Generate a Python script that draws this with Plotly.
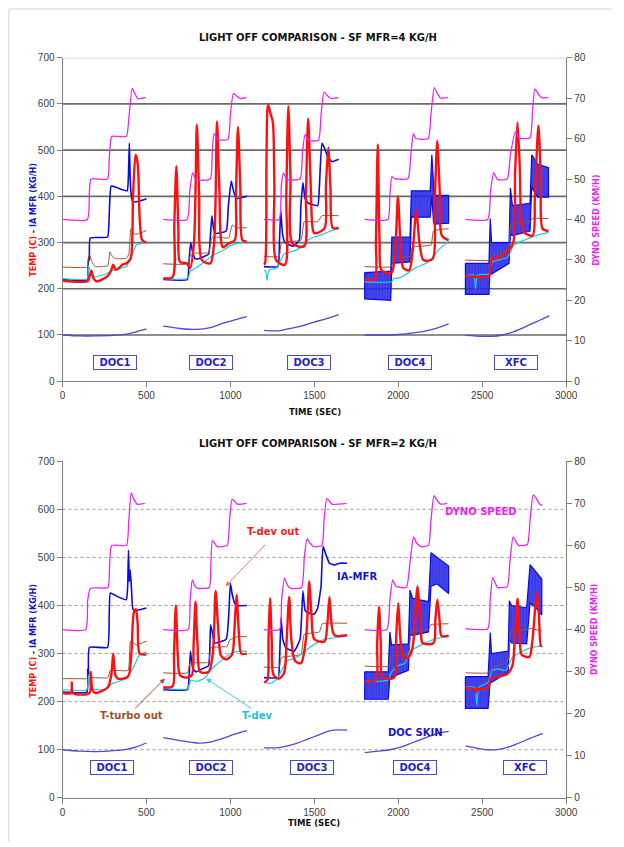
import plotly.graph_objects as go

# ---------------- DATA (time [s], value) ; None separates the test segments ----------------
SEGMENTS = ["DOC1", "DOC2", "DOC3", "DOC4", "XFC"]
X_TICKS = [0, 500, 1000, 1500, 2000, 2500, 3000]
Y_TICKS = [0, 100, 200, 300, 400, 500, 600, 700]
Y2_TICKS = [0, 10, 20, 30, 40, 50, 60, 70, 80]
GRID_VALUES = [100, 200, 300, 400, 500, 600]

# ---- top chart: SF MFR = 4 kg/h ----
TOP_DYNO = [
    (0, 40), (148, 40), (160, 47), (170, 50), (268, 50), (278, 55), (290, 60.3), (300, 60.6), (380, 60.5), (395, 65),
    (415, 72.4), (432, 71), (448, 69.9), (470, 69.9), (495, 70.2), None,
    (600, 40), (742, 40), (758, 47), (775, 51.5), (795, 49.8), (880, 50), (892, 57), (903, 61.3), (925, 59.7),
    (985, 59.8), (1000, 66), (1018, 71.2), (1040, 70.4), (1060, 69.9), (1095, 70.1), None,
    (1200, 40), (1290, 40), (1303, 48), (1315, 51.5), (1338, 49.9), (1415, 50), (1430, 57), (1445, 61), (1468, 59.5),
    (1525, 59.6), (1540, 66), (1558, 71.5), (1580, 70.5), (1600, 69.9), (1642, 70.1), None,
    (1800, 40), (1938, 40), (1950, 46), (1962, 50.6), (1978, 50.1), (2058, 50.1), (2075, 56), (2090, 61.2), (2105, 60),
    (2178, 60), (2195, 66), (2214, 72.6), (2235, 71), (2252, 70), (2297, 70.2), None,
    (2400, 40), (2533, 40), (2550, 47), (2568, 51.6), (2591, 49.9), (2649, 50), (2668, 56), (2698, 61.7), (2720, 60.1),
    (2785, 60.2), (2800, 67), (2814, 72.3), (2835, 71), (2853, 70.1), (2895, 70.2),
]
TOP_MFR = [
    (0, 220), (148, 219), (152, 245), (156, 270), (160, 262), (165, 310), (268, 312), (278, 360), (290, 422), (330, 418),
    (385, 412), (392, 440), (398, 515), (403, 440), (410, 400), (420, 388), (460, 390), (500, 395), None,
    (600, 220), (744, 220), (752, 250), (763, 300), (775, 280), (790, 265), (810, 265), (870, 275), (880, 310), (890, 358),
    (900, 330), (912, 320), (975, 325), (988, 380), (1005, 433), (1020, 410), (1035, 395), (1098, 400), None,
    (1200, 248), (1283, 248), (1292, 300), (1300, 370), (1310, 320), (1325, 300), (1375, 292), (1410, 305), (1420, 380),
    (1432, 430), (1445, 395), (1465, 385), (1520, 380), (1530, 420), (1545, 515), (1560, 505), (1580, 485), (1606, 475),
    (1645, 480),
]
# noisy IA MFR signal on DOC4 / XFC: (time, low envelope, high envelope)
TOP_MFR_BAND = [
    (1800, 178, 235), (1955, 175, 238), (1962, 255, 312), (2070, 258, 312), (2078, 355, 412), (2190, 355, 412),
    (2200, 400, 490), (2210, 345, 420), (2215, 340, 402), (2300, 342, 402), None,
    (2400, 188, 255), (2540, 188, 255), (2548, 250, 352), (2556, 232, 300), (2660, 255, 300), (2668, 318, 418),
    (2680, 315, 380), (2785, 325, 385), (2795, 420, 490), (2830, 398, 470), (2895, 398, 462),
]
TOP_TDEV_OUT = [
    (0, 217), (150, 217), (162, 228), (172, 239), (185, 222), (205, 216), (270, 228), (290, 240), (302, 252), (318, 241),
    (345, 248), (360, 253), (380, 255), (405, 265), (420, 400), (435, 490), (448, 470), (460, 350), (475, 305), (500, 300), None,
    (600, 223), (655, 225), (666, 340), (678, 465), (690, 330), (700, 258), (740, 255), (760, 245), (783, 300), (800, 555),
    (814, 400), (830, 262), (880, 255), (903, 300), (920, 562), (934, 420), (955, 290), (990, 298), (1026, 305), (1033, 400),
    (1045, 550), (1059, 420), (1072, 305), (1098, 302), None,
    (1200, 252), (1207, 256), (1215, 480), (1224, 598), (1240, 578), (1253, 560), (1262, 420), (1272, 262), (1325, 252),
    (1333, 400), (1345, 595), (1358, 440), (1370, 298), (1440, 292), (1450, 400), (1463, 568), (1476, 450), (1490, 330),
    (1500, 320), (1560, 330), (1569, 420), (1583, 505), (1596, 420), (1610, 332), (1645, 332), None,
    (1800, 220), (1860, 222), (1867, 300), (1878, 512), (1889, 300), (1900, 240), (1960, 235), (1984, 300), (1998, 400),
    (2013, 300), (2030, 245), (2065, 240), (2085, 280), (2108, 370), (2126, 300), (2150, 262), (2205, 265), (2217, 380),
    (2232, 520), (2246, 420), (2260, 315), (2300, 305), None,
    (2400, 228), (2540, 228), (2555, 262), (2600, 268), (2650, 280), (2685, 300), (2696, 450), (2710, 560), (2723, 470),
    (2735, 340), (2750, 322), (2800, 315), (2814, 400), (2835, 553), (2849, 440), (2860, 330), (2895, 325),
]
TOP_TTURBO = [
    (0, 247), (148, 247), (152, 262), (160, 275), (175, 258), (195, 248), (270, 250), (282, 280), (300, 268), (320, 265),
    (380, 266), (395, 275), (408, 330), (430, 318), (460, 320), (500, 326), None,
    (600, 254), (745, 254), (760, 270), (775, 277), (870, 278), (885, 305), (895, 312), (990, 310), (1000, 325), (1012, 338),
    (1030, 332), (1098, 332), None,
    (1200, 270), (1290, 270), (1305, 300), (1420, 305), (1440, 345), (1520, 345), (1545, 358), (1645, 358), None,
    (1800, 248), (1958, 248), (1970, 268), (2070, 270), (2085, 290), (2195, 295), (2210, 325), (2300, 330), None,
    (2400, 262), (2540, 262), (2555, 270), (2655, 285), (2672, 340), (2785, 345), (2800, 352), (2895, 352),
]
TOP_TDEV = [
    (0, 222), (148, 222), (155, 250), (165, 238), (190, 226), (260, 232), (300, 240), (380, 248), (410, 270), (440, 295),
    (470, 298), (500, 302), None,
    (600, 222), (745, 222), (760, 238), (780, 242), (835, 255), (895, 272), (960, 284), (1010, 295), (1100, 302), None,
    (1200, 240), (1210, 238), (1218, 218), (1230, 240), (1275, 245), (1300, 262), (1320, 275), (1380, 282), (1420, 290),
    (1460, 305), (1500, 312), (1550, 318), (1600, 325), (1645, 330), None,
    (1800, 215), (1960, 215), (1975, 222), (2010, 224), (2050, 232), (2100, 245), (2180, 258), (2240, 284), (2300, 303), None,
    (2400, 228), (2450, 230), (2460, 200), (2472, 230), (2540, 232), (2560, 258), (2650, 268), (2690, 295), (2750, 305),
    (2820, 315), (2895, 322),
]
TOP_SKIN = [
    (0, 100), (100, 98), (200, 98), (300, 99), (380, 102), (440, 107), (500, 113), None,
    (600, 119), (700, 114), (800, 112), (880, 116), (960, 126), (1030, 133), (1098, 140), None,
    (1200, 110), (1280, 109), (1340, 113), (1420, 119), (1500, 128), (1560, 134), (1645, 144), None,
    (1800, 100), (1900, 100), (2000, 101), (2100, 105), (2180, 110), (2230, 115), (2300, 124), None,
    (2400, 99), (2500, 97), (2560, 97), (2620, 100), (2680, 106), (2740, 115), (2800, 125), (2850, 133), (2900, 142),
]
TOP_BOX_T = [311, 884, 1471, 2070, 2701]
TOP_BOX_Y = 40

# ---- bottom chart: SF MFR = 2 kg/h ----
BOT_DYNO = [
    (0, 40), (138, 40), (150, 47), (167, 49.8), (270, 50), (280, 55), (293, 60), (380, 60), (395, 66), (409, 72.5),
    (425, 71), (444, 69.8), (490, 70), None,
    (600, 40), (748, 40), (760, 47), (773, 51.8), (790, 50.2), (806, 49.8), (874, 50), (884, 56), (893, 61.2), (922, 59.7),
    (981, 60), (995, 66), (1010, 71), (1025, 70.5), (1041, 69.8), (1095, 70), None,
    (1200, 40), (1293, 40), (1305, 47), (1322, 52.2), (1340, 50.5), (1360, 49.8), (1424, 50), (1440, 57), (1457, 61.6),
    (1475, 60.5), (1496, 59.7), (1545, 60), (1558, 66), (1574, 71.2), (1590, 70.5), (1603, 69.8), (1692, 70), None,
    (1800, 40), (1932, 40), (1950, 47), (1967, 51.8), (1985, 50.3), (2048, 50), (2070, 56), (2091, 62), (2110, 60.5),
    (2136, 59.7), (2180, 60), (2195, 66), (2213, 71.8), (2235, 70.5), (2252, 69.8), (2291, 70), None,
    (2400, 40.2), (2533, 40.2), (2548, 47), (2562, 52.4), (2578, 51), (2591, 50), (2649, 50.2), (2665, 56), (2684, 62),
    (2700, 61), (2717, 60), (2769, 60.2), (2785, 66), (2804, 72), (2825, 71), (2843, 69.8), (2858, 69.5),
]
BOT_MFR = [
    (0, 220), (145, 220), (150, 268), (155, 250), (160, 313), (268, 313), (278, 380), (285, 426), (330, 418), (380, 412),
    (388, 440), (393, 515), (398, 450), (403, 474), (410, 440), (420, 392), (440, 390), (500, 395), None,
    (600, 225), (745, 225), (752, 240), (762, 305), (775, 270), (795, 262), (830, 268), (870, 275), (882, 360), (895, 340),
    (905, 322), (975, 330), (990, 380), (1000, 446), (1010, 425), (1025, 405), (1040, 400), (1098, 400), None,
    (1200, 250), (1285, 250), (1292, 280), (1302, 375), (1312, 330), (1330, 312), (1380, 305), (1415, 330), (1432, 430),
    (1445, 390), (1460, 385), (1500, 382), (1520, 395), (1540, 440), (1552, 523), (1570, 505), (1590, 488), (1620, 484),
    (1650, 488), (1695, 488),
]
BOT_MFR_BAND = [
    (1800, 205, 262), (1940, 205, 262), (1950, 250, 345), (1960, 250, 318), (2060, 265, 320), (2070, 340, 432),
    (2085, 338, 415), (2180, 345, 408), (2195, 440, 510), (2230, 445, 500), (2300, 425, 482), None,
    (2400, 186, 252), (2535, 186, 252), (2548, 245, 344), (2556, 240, 300), (2655, 262, 305), (2662, 330, 410),
    (2675, 322, 400), (2765, 320, 395), (2785, 405, 485), (2820, 395, 470), (2855, 380, 455),
]
BOT_TDEV_OUT = [
    (0, 218), (50, 218), (55, 240), (62, 218), (160, 218), (168, 262), (178, 225), (195, 218), (270, 230), (290, 255),
    (302, 300), (315, 255), (330, 248), (390, 252), (410, 300), (425, 385), (438, 392), (448, 360), (460, 300), (500, 298), None,
    (600, 230), (655, 232), (664, 300), (675, 400), (686, 300), (700, 255), (740, 250), (770, 255), (781, 320), (792, 408),
    (804, 320), (820, 262), (870, 262), (895, 300), (912, 430), (926, 360), (945, 295), (975, 288), (1010, 298), (1024, 350),
    (1037, 422), (1051, 340), (1065, 300), (1098, 300), None,
    (1200, 240), (1220, 245), (1227, 330), (1236, 415), (1246, 330), (1258, 255), (1290, 248), (1320, 260), (1334, 320),
    (1350, 418), (1363, 330), (1385, 285), (1420, 280), (1450, 330), (1470, 450), (1483, 380), (1500, 330), (1560, 325),
    (1577, 360), (1590, 418), (1603, 360), (1620, 338), (1695, 338), None,
    (1800, 242), (1865, 245), (1874, 320), (1885, 398), (1896, 320), (1908, 250), (1975, 250), (1987, 330), (2000, 405),
    (2013, 330), (2030, 290), (2060, 292), (2080, 305), (2095, 340), (2108, 420), (2115, 440), (2125, 400), (2135, 345),
    (2145, 322), (2210, 322), (2221, 370), (2233, 412), (2246, 370), (2258, 337), (2300, 337), None,
    (2400, 228), (2455, 226), (2465, 220), (2475, 226), (2535, 228), (2550, 248), (2600, 252), (2650, 258), (2680, 275),
    (2694, 330), (2710, 414), (2723, 340), (2735, 298), (2780, 293), (2800, 330), (2825, 426), (2838, 380), (2850, 316),
    (2858, 316),
]
BOT_TTURBO = [
    (0, 248), (150, 248), (160, 250), (270, 250), (285, 265), (390, 265), (405, 325), (440, 318), (500, 326), None,
    (600, 260), (745, 260), (760, 280), (870, 282), (885, 312), (980, 315), (995, 328), (1040, 335), (1098, 335), None,
    (1200, 272), (1290, 272), (1305, 292), (1420, 298), (1440, 340), (1530, 345), (1548, 362), (1695, 363), None,
    (1800, 274), (1945, 274), (1960, 295), (2060, 300), (2075, 345), (2180, 350), (2195, 360), (2300, 362), None,
    (2400, 260), (2535, 260), (2550, 268), (2655, 285), (2670, 345), (2760, 350), (2790, 352), (2855, 347),
]
BOT_TDEV = [
    (0, 225), (145, 225), (155, 255), (170, 228), (250, 225), (300, 238), (380, 248), (420, 270), (460, 298), (500, 303), None,
    (600, 227), (745, 227), (765, 245), (800, 242), (850, 250), (880, 265), (920, 278), (960, 290), (1000, 300), (1050, 305),
    (1098, 305), None,
    (1200, 240), (1240, 238), (1280, 248), (1300, 262), (1340, 285), (1380, 290), (1420, 298), (1470, 312), (1540, 327),
    (1600, 332), (1695, 336), None,
    (1800, 242), (1940, 245), (1960, 262), (2000, 275), (2040, 280), (2070, 305), (2120, 315), (2180, 325), (2240, 332),
    (2300, 336), None,
    (2400, 230), (2455, 230), (2468, 192), (2480, 230), (2535, 240), (2560, 265), (2600, 268), (2640, 265), (2680, 292),
    (2740, 305), (2800, 313), (2855, 316),
]
BOT_SKIN = [
    (0, 100), (100, 97), (200, 96), (300, 98), (380, 101), (440, 106), (500, 114), None,
    (600, 125), (700, 119), (800, 114), (880, 116), (950, 123), (1020, 132), (1098, 140), None,
    (1200, 104), (1280, 104), (1340, 108), (1400, 114), (1460, 122), (1520, 130), (1580, 138), (1610, 141), (1695, 141), None,
    (1800, 94), (1880, 97), (1950, 100), (2020, 106), (2080, 114), (2140, 122), (2200, 130), (2250, 135), (2300, 138), None,
    (2400, 108), (2460, 104), (2530, 100), (2600, 101), (2660, 106), (2720, 114), (2780, 123), (2830, 130), (2860, 134),
]
BOT_BOX_T = [296, 884, 1488, 2097, 2754]
BOT_BOX_Y = 64

# in-chart labels of the bottom chart: (text, colour, time, value)
BOT_LABELS = [
    ("DYNO SPEED", "#ee22ee", 2491, 595),
    ("T-dev out", "#ff1a1a", 1254, 553),
    ("IA-MFR", "#1515d0", 1753, 460),
    ("T-turbo out", "#a0522d", 413, 171),
    ("T-dev", "#22c0e0", 1158, 171),
    ("DOC SKIN", "#1515d0", 2100, 136),
]
# arrows: (head time, head value, tail time, tail value, colour)
BOT_ARROWS = [
    (971, 440, 1215, 529, "#e07a6a"),
    (610, 248, 424, 183, "#a0522d"),
    (855, 248, 1134, 184, "#40c8e0"),
]

# ---------------- STYLE ----------------
W, H = 624, 847
C_DYNO, C_MFR, C_RED = "#f022f0", "#0a0ae6", "#ff1010"
C_TURBO, C_TDEV, C_SKIN = "#a0522d", "#22c8dc", "#4a4ad2"
BOLD = "DejaVu Sans"
TICKFONT = dict(family="Liberation Sans, Arial", size=10, color="#404040")


def split(pairs):
    xs, ys = [], []
    for p in pairs:
        if p is None:
            xs.append(None); ys.append(None)
        else:
            xs.append(p[0]); ys.append(p[1])
    return xs, ys


def band_poly(triples):
    segs = [[]]
    for p in triples:
        if p is None:
            segs.append([])
        else:
            segs[-1].append(p)
    xs, ys = [], []
    for s in segs:
        if not s:
            continue
        xs += [p[0] for p in s] + [p[0] for p in reversed(s)] + [s[0][0], None]
        ys += [p[2] for p in s] + [p[1] for p in reversed(s)] + [s[0][2], None]
    return xs, ys


fig = go.Figure()


def add_chart(xa, ya, ya2, dyno, mfr, band, tout, turbo, tdev, skin):
    def line(data, color, width, yax, smooth):
        x, y = split(data)
        shape = dict(shape="spline", smoothing=smooth) if smooth else dict(shape="linear")
        fig.add_trace(go.Scatter(x=x, y=y, mode="lines", xaxis=xa, yaxis=yax,
                                 line=dict(color=color, width=width, **shape), hoverinfo="skip",
                                 connectgaps=False, showlegend=False))
    line(skin, C_SKIN, 1.3, ya, 0.8)
    line(mfr, C_MFR, 1.6, ya, 0.4)
    bx, by = band_poly(band)
    fig.add_trace(go.Scatter(x=bx, y=by, mode="lines", fill="toself", xaxis=xa, yaxis=ya,
                             fillcolor="rgba(20,20,235,0.8)",
                             fillpattern=dict(shape="|", size=3, solidity=0.75, fgcolor="#0606e0",
                                              bgcolor="rgba(60,60,240,0.8)"),
                             line=dict(color=C_MFR, width=1.2),
                             hoverinfo="skip", showlegend=False))
    line(turbo, C_TURBO, 1.0, ya, 0.4)
    line(tdev, C_TDEV, 1.2, ya, 0.5)
    line(tout, C_RED, 2.4, ya, 0.8)
    line(dyno, C_DYNO, 1.3, ya2, 0.5)


add_chart("x", "y", "y2", TOP_DYNO, TOP_MFR, TOP_MFR_BAND, TOP_TDEV_OUT, TOP_TTURBO, TOP_TDEV, TOP_SKIN)
add_chart("x2", "y3", "y4", BOT_DYNO, BOT_MFR, BOT_MFR_BAND, BOT_TDEV_OUT, BOT_TTURBO, BOT_TDEV, BOT_SKIN)

X_DOM = [61 / W, 577 / W]
TOP_DOM = [(H - 380.7) / H, (H - 53.3) / H]
BOT_DOM = [(H - 802.3) / H, (H - 461.7) / H]

axis_common = dict(ticks="outside", ticklen=5, tickcolor="#808080", showline=True, linecolor="#808080",
                   linewidth=1, showgrid=False, zeroline=False, tickfont=TICKFONT, fixedrange=True)

fig.update_layout(
    width=W, height=H, margin=dict(l=0, r=0, t=0, b=0),
    paper_bgcolor="white", plot_bgcolor="white", showlegend=False,
    xaxis=dict(domain=X_DOM, anchor="y", range=[0, 3000], tickvals=X_TICKS, **axis_common),
    yaxis=dict(domain=TOP_DOM, anchor="x", range=[0, 700], tickvals=Y_TICKS, **axis_common),
    yaxis2=dict(overlaying="y", anchor="x", side="right", range=[0, 80], tickvals=Y2_TICKS, **axis_common),
    xaxis2=dict(domain=X_DOM, anchor="y3", range=[0, 3000], tickvals=X_TICKS, **axis_common),
    yaxis3=dict(domain=BOT_DOM, anchor="x2", range=[0, 700], tickvals=Y_TICKS, **axis_common),
    yaxis4=dict(overlaying="y3", anchor="x2", side="right", range=[0, 80], tickvals=Y2_TICKS, **axis_common),
)

shapes = []
for g in GRID_VALUES:
    shapes.append(dict(type="line", xref="x", yref="y", x0=0, x1=3000, y0=g, y1=g, layer="below",
                       line=dict(color="#6a6a6a", width=1.7)))
    shapes.append(dict(type="line", xref="x2", yref="y3", x0=0, x1=3000, y0=g, y1=g, layer="below",
                       line=dict(color="#9a9a9a", width=1, dash="dot")))
shapes.append(dict(type="line", xref="x", yref="y", x0=0, x1=3000, y0=700, y1=700, layer="below",
                   line=dict(color="#c4c4c4", width=1.5)))
# page frame
shapes.append(dict(type="line", xref="paper", yref="paper", x0=6 / W, x1=1, y0=1 - 4 / H, y1=1 - 4 / H,
                   line=dict(color="#d4d4d4", width=1)))
shapes.append(dict(type="line", xref="paper", yref="paper", x0=6 / W, x1=6 / W, y0=0, y1=1 - 4 / H,
                   line=dict(color="#d4d4d4", width=1)))
fig.update_layout(shapes=shapes)

ann = []


def paper_text(text, px, py, size, color="#111111", angle=0):
    ann.append(dict(text=text, x=px / W, y=1 - py / H, xref="paper", yref="paper", showarrow=False,
                    xanchor="center", yanchor="middle", textangle=angle,
                    font=dict(family=BOLD, size=size, color=color)))


paper_text("<b>LIGHT OFF COMPARISON - SF MFR=4 KG/H</b>", 323, 33, 10)
paper_text("<b>LIGHT OFF COMPARISON - SF MFR=2 KG/H</b>", 323, 444, 10)
paper_text("<b>TIME (SEC)</b>", 320, 412, 8.5)
paper_text("<b>TIME (SEC)</b>", 319, 828, 8.5)
ytitle = ('<b><span style="color:#ff1010">TEMP (C)</span> - '
          '<span style="color:#1515d0">IA MFR (KG/H)</span></b>')
paper_text(ytitle, 31, 217, 8, angle=-90)
paper_text(ytitle, 31, 643, 8, angle=-90)
paper_text("<b>DYNO SPEED (KM/H)</b>", 608, 218, 8, color="#ee22ee", angle=-90)
paper_text("<b>DYNO SPEED (KM/H)</b>", 606, 632, 8, color="#ee22ee", angle=-90)

for name, t in zip(SEGMENTS, TOP_BOX_T):
    ann.append(dict(text="<b>%s</b>" % name, x=t, y=TOP_BOX_Y, xref="x", yref="y", showarrow=False,
                    font=dict(family=BOLD, size=10, color="#1f1fc8"), bordercolor="#4a4ad2",
                    borderwidth=1, borderpad=1, width=40, height=11, bgcolor="white"))
for name, t in zip(SEGMENTS, BOT_BOX_T):
    ann.append(dict(text="<b>%s</b>" % name, x=t, y=BOT_BOX_Y, xref="x2", yref="y3", showarrow=False,
                    font=dict(family=BOLD, size=10, color="#1f1fc8"), bordercolor="#4a4ad2",
                    borderwidth=1, borderpad=1, width=40, height=11, bgcolor="white"))
for text, color, t, v in BOT_LABELS:
    ann.append(dict(text="<b>%s</b>" % text, x=t, y=v, xref="x2", yref="y3", showarrow=False,
                    font=dict(family=BOLD, size=10, color=color)))
for hx, hy, tx, ty, color in BOT_ARROWS:
    ann.append(dict(text="", x=hx, y=hy, ax=tx, ay=ty, xref="x2", yref="y3", axref="x2", ayref="y3",
                    showarrow=True, arrowhead=2, arrowsize=1, arrowwidth=1, arrowcolor=color))
fig.update_layout(annotations=ann)

fig.write_html("out.html")
